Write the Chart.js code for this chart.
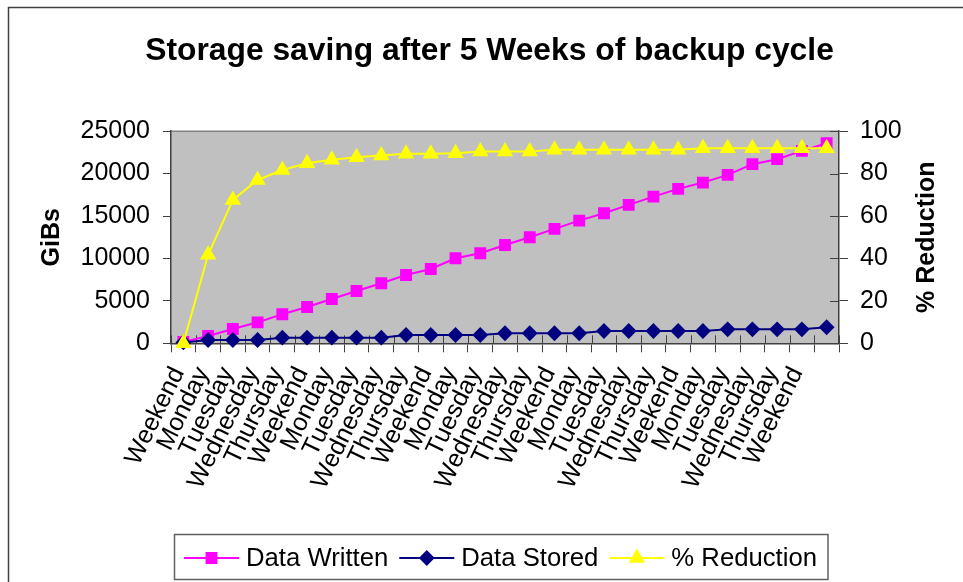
<!DOCTYPE html>
<html>
<head>
<meta charset="utf-8">
<title>Storage saving after 5 Weeks of backup cycle</title>
<script src="https://cdn.jsdelivr.net/npm/chart.js@4/dist/chart.umd.min.js"></script>
<style>
    html, body { margin: 0; padding: 0; background: #fff; }
    #wrap { width: 963px; height: 582px; position: relative; }
</style>
</head>
<body>
<div id="wrap"><canvas id="chart"></canvas></div>
<script>
// 日ごとのラベル（最後の点はラベルなし）
const dayLabels = [
    'Weekend', 'Monday', 'Tuesday', 'Wednesday', 'Thursday',
    'Weekend', 'Monday', 'Tuesday', 'Wednesday', 'Thursday',
    'Weekend', 'Monday', 'Tuesday', 'Wednesday', 'Thursday',
    'Weekend', 'Monday', 'Tuesday', 'Wednesday', 'Thursday',
    'Weekend', 'Monday', 'Tuesday', 'Wednesday', 'Thursday',
    'Weekend', ''
];

// GiBs
const dataWritten = [
    150, 860, 1690, 2470, 3420, 4280, 5220, 6170, 7070, 8050,
    8760, 10020, 10610, 11590, 12500, 13480, 14460, 15330, 16310, 17290,
    18200, 18940, 19850, 21110, 21700, 22680, 23580
];
const dataStored = [
    100, 390, 390, 390, 660, 660, 660, 660, 660, 980,
    980, 980, 980, 1180, 1180, 1180, 1180, 1450, 1450, 1450,
    1450, 1450, 1650, 1650, 1650, 1650, 1890
];
// %
const reduction = [
    0, 41.7, 67.6, 77, 81.7, 84.9, 86.5, 87.7, 88.5, 89.3,
    89.3, 89.6, 90.4, 90.4, 90.4, 91.2, 91.2, 91.2, 91.2, 91.2,
    91.2, 92, 92, 92, 92, 92, 92
];

const leftTicks = { min: 0, max: 25000, step: 5000 };
const rightTicks = { min: 0, max: 100, step: 20 };

const FONT = "'Liberation Sans', Arial, sans-serif";
const AXIS_COLOR = '#404040';

/**
 * 背景・プロットエリア・外枠
 */
const backgroundPlugin = {
    id: 'excelBackground',
    beforeDraw(chart) {
        const { ctx, chartArea: a, width, height } = chart;
        ctx.save();
        ctx.fillStyle = '#ffffff';
        ctx.fillRect(0, 0, width, height);
        // 外枠（上と左のみ見えている）
        ctx.strokeStyle = '#404040';
        ctx.lineWidth = 1.5;
        ctx.beginPath();
        ctx.moveTo(8.5, height);
        ctx.lineTo(8.5, 7.5);
        ctx.lineTo(width, 7.5);
        ctx.stroke();
        // プロットエリア
        ctx.fillStyle = '#c0c0c0';
        ctx.fillRect(a.left, a.top, a.right - a.left, a.bottom - a.top);
        ctx.strokeStyle = '#808080';
        ctx.lineWidth = 1.5;
        ctx.beginPath();
        ctx.moveTo(a.left, a.top);
        ctx.lineTo(a.right, a.top);
        ctx.stroke();
        ctx.restore();
    },
    beforeDatasetsDraw(chart) {
        // 軸をまたぐ目盛り（内側部分）
        const { ctx, chartArea: a } = chart;
        const x = chart.scales.x;
        const y1 = chart.scales.y1;
        ctx.save();
        ctx.strokeStyle = AXIS_COLOR;
        ctx.lineWidth = 1;
        ctx.beginPath();
        const step = x.getPixelForValue(1) - x.getPixelForValue(0);
        for (let i = 0; i <= dayLabels.length; i++) {
            const px = Math.round(x.getPixelForValue(0) - step / 2 + i * step) + 0.5;
            ctx.moveTo(px, a.bottom - 8);
            ctx.lineTo(px, a.bottom);
        }
        y1.ticks.forEach(t => {
            const py = Math.round(y1.getPixelForValue(t.value)) + 0.5;
            ctx.moveTo(a.right - 9, py);
            ctx.lineTo(a.right, py);
        });
        ctx.stroke();

        // 右軸タイトル（下から上へ読む向き）
        ctx.fillStyle = '#000';
        ctx.font = `bold 25px ${FONT}`;
        ctx.textAlign = 'center';
        ctx.textBaseline = 'middle';
        ctx.translate(927, (a.top + a.bottom) / 2);
        ctx.rotate(-Math.PI / 2);
        ctx.fillText('% Reduction', 0, 0);
        ctx.restore();
    }
};

/**
 * Excel風の凡例（線＋マーカー）
 */
const legendPlugin = {
    id: 'excelLegend',
    afterDraw(chart) {
        const { ctx } = chart;
        const boxLeft = 174.5;
        const boxTop = 534.5;
        const boxHeight = 45;
        const midY = 558;
        const lineLen = 55;
        ctx.save();
        ctx.font = `25.7px ${FONT}`;
        ctx.textBaseline = 'middle';
        ctx.textAlign = 'left';

        let cx = boxLeft + 9.5;
        const items = chart.data.datasets;
        items.forEach(ds => {
            ctx.strokeStyle = ds.borderColor;
            ctx.lineWidth = 2;
            ctx.beginPath();
            ctx.moveTo(cx, midY);
            ctx.lineTo(cx + lineLen, midY);
            ctx.stroke();
            ctx.fillStyle = ds.pointBackgroundColor;
            ctx.strokeStyle = ds.pointBorderColor;
            Chart.helpers.drawPoint(ctx, {
                pointStyle: ds.pointStyle,
                radius: ds.pointRadius,
                rotation: 0,
                borderWidth: 1
            }, cx + lineLen / 2, midY);
            cx += lineLen + 7;
            ctx.fillStyle = '#000';
            ctx.fillText(ds.label, cx, midY + 1);
            cx += ctx.measureText(ds.label).width + 11;
        });

        ctx.strokeStyle = '#606060';
        ctx.lineWidth = 1.5;
        ctx.strokeRect(boxLeft, boxTop, cx - boxLeft, boxHeight);
        ctx.restore();
    }
};

document.addEventListener('DOMContentLoaded', () => {
    const ctx = document.getElementById('chart');

    new Chart(ctx, {
        type: 'line',
        data: {
            labels: dayLabels,
            datasets: [
                {
                    label: 'Data Written',
                    data: dataWritten,
                    yAxisID: 'y',
                    borderColor: '#ff00ff',
                    backgroundColor: '#ff00ff',
                    pointBackgroundColor: '#ff00ff',
                    pointBorderColor: '#ff00ff',
                    pointStyle: 'rect',
                    pointRadius: 7,
                    borderWidth: 2,
                    order: 2
                },
                {
                    label: 'Data Stored',
                    data: dataStored,
                    yAxisID: 'y',
                    borderColor: '#000080',
                    backgroundColor: '#000080',
                    pointBackgroundColor: '#000080',
                    pointBorderColor: '#000080',
                    pointStyle: 'rectRot',
                    pointRadius: 6.5,
                    borderWidth: 2,
                    order: 1
                },
                {
                    label: '% Reduction',
                    data: reduction,
                    yAxisID: 'y1',
                    borderColor: '#ffff00',
                    backgroundColor: '#ffff00',
                    pointBackgroundColor: '#ffff00',
                    pointBorderColor: '#ffff00',
                    pointStyle: 'triangle',
                    pointRadius: 7.5,
                    borderWidth: 2,
                    order: 0
                }
            ]
        },
        options: {
            responsive: true,
            maintainAspectRatio: false,
            animation: false,
            devicePixelRatio: 1,
            clip: false,
            layout: {
                padding: { left: 33, right: 17, top: 0, bottom: 0 }
            },
            elements: {
                line: { tension: 0 },
                point: { borderWidth: 1, hoverRadius: 7 }
            },
            plugins: {
                legend: { display: false },
                tooltip: { enabled: false },
                title: {
                    display: true,
                    text: 'Storage saving after 5 Weeks of backup cycle',
                    color: '#000',
                    font: { family: FONT, size: 31.8, weight: 'bold', lineHeight: 1.2 },
                    padding: { top: 32, bottom: 61 }
                }
            },
            scales: {
                x: {
                    type: 'category',
                    offset: true,
                    grid: {
                        offset: true,
                        drawOnChartArea: false,
                        tickLength: 9,
                        color: AXIS_COLOR
                    },
                    border: { color: AXIS_COLOR, width: 1.5 },
                    ticks: {
                        autoSkip: false,
                        maxRotation: 64,
                        minRotation: 64,
                        padding: 10,
                        labelOffset: -5,
                        color: '#000',
                        font: { family: FONT, size: 25 }
                    },
                    afterFit(scale) {
                        scale.height = 238.7;
                    }
                },
                y: {
                    position: 'left',
                    min: leftTicks.min,
                    max: leftTicks.max,
                    grid: { drawOnChartArea: false, tickLength: 8, color: AXIS_COLOR },
                    border: { color: AXIS_COLOR, width: 1.5 },
                    ticks: {
                        stepSize: leftTicks.step,
                        padding: 13,
                        color: '#000',
                        font: { family: FONT, size: 25 },
                        callback: value => String(value)
                    },
                    title: {
                        display: true,
                        text: 'GiBs',
                        color: '#000',
                        font: { family: FONT, size: 25, weight: 'bold' }
                    },
                    afterFit(scale) {
                        scale.width = 138;
                    }
                },
                y1: {
                    position: 'right',
                    min: rightTicks.min,
                    max: rightTicks.max,
                    grid: { drawOnChartArea: false, tickLength: 9, color: AXIS_COLOR },
                    border: { color: AXIS_COLOR, width: 1.5 },
                    ticks: {
                        stepSize: rightTicks.step,
                        padding: 12,
                        color: '#000',
                        font: { family: FONT, size: 25 },
                        callback: value => String(value)
                    },
                    afterFit(scale) {
                        scale.width = 107;
                    }
                }
            }
        },
        plugins: [backgroundPlugin, legendPlugin]
    });
});
</script>
</body>
</html>
